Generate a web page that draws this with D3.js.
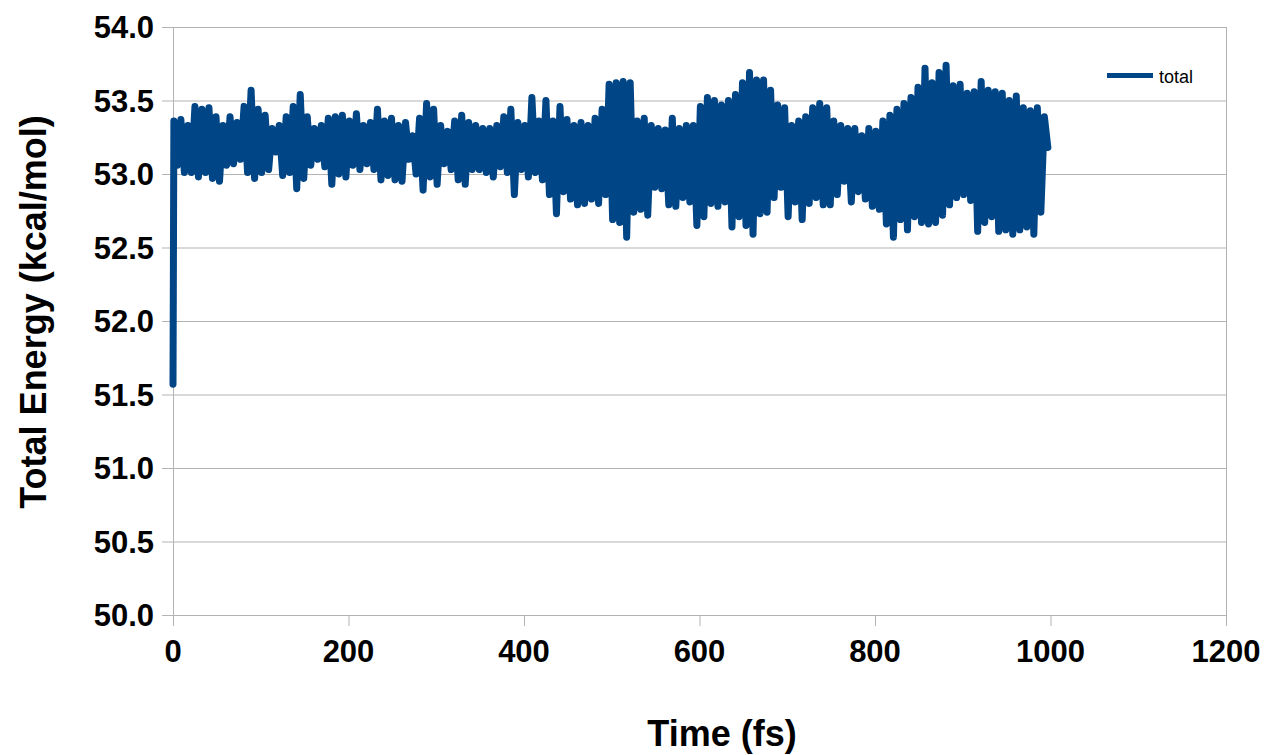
<!DOCTYPE html>
<html lang="en">
	<head>
		<meta charset="utf-8">
		<script src="https://d3js.org/d3.v7.min.js"></script>
		<title>Total Energy</title>
		<style>
			body { margin:0; background:white; }
			text { font-family:"Liberation Sans", Arial, sans-serif; fill:black; }
			.grid line { stroke:#b3b3b3; stroke-width:1px; }
			.tick-label { font-size:31px; font-weight:bold; }
			.axis-title { font-size:36px; font-weight:bold; }
			.energy { fill:none; stroke:#004586; stroke-width:7px; stroke-linejoin:round; stroke-linecap:round; }
		</style>
	</head>
	<body>
		<script type="text/javascript">

		// total energy: first sample at 0 fs, then every 4 fs starting at 1 fs
		var timeStep = 4;
		var energy = [51.57,
			53.36,53.06, 53.37,53.01, 53.33,53.01, 53.46,52.98, 53.44,53.01, 53.45,52.97, 53.39,52.95, 53.33,53.06, 53.39,53.07, 53.35,53.10,
			53.46,53.01, 53.57,52.97, 53.44,53.01, 53.40,53.03, 53.31,53.15, 53.33,52.99, 53.39,53.01, 53.46,52.90, 53.54,52.97, 53.39,53.06,
			53.31,53.10, 53.33,53.05, 53.38,52.93, 53.39,53.00, 53.40,52.98, 53.36,53.06, 53.41,53.03, 53.33,53.07, 53.35,53.03, 53.44,52.96,
			53.36,52.99, 53.38,52.96, 53.33,52.95, 53.35,53.10, 53.26,53.00, 53.38,52.89, 53.48,52.98, 53.44,52.93, 53.33,53.07, 53.29,53.03,
			53.36,52.96, 53.40,52.93, 53.35,53.03, 53.33,53.03, 53.31,53.01, 53.31,52.98, 53.33,53.05, 53.39,53.01, 53.44,52.86, 53.35,53.03,
			53.33,52.98, 53.52,53.01, 53.36,52.96, 53.50,52.86, 53.36,52.73, 53.46,52.88, 53.37,52.83, 53.33,52.79, 53.35,52.80, 53.33,52.83,
			53.38,52.80, 53.44,52.86, 53.61,52.69, 53.62,52.67, 53.63,52.57, 53.62,52.74, 53.36,52.76, 53.38,52.72, 53.33,52.91, 53.31,52.90,
			53.30,52.79, 53.38,52.78, 53.31,52.84, 53.33,52.81, 53.33,52.65, 53.46,52.71, 53.52,52.80, 53.50,52.78, 53.47,52.81, 53.50,52.64,
			53.54,52.71, 53.62,52.65, 53.69,52.59, 53.64,52.73, 53.64,52.74, 53.57,52.84, 53.47,52.91, 53.45,52.71, 53.33,52.81, 53.36,52.69,
			53.39,52.80, 53.45,52.84, 53.48,52.79, 53.45,52.79, 53.36,52.86, 53.33,52.95, 53.31,52.81, 53.31,52.88, 53.26,52.83, 53.31,52.78,
			53.29,52.76, 53.36,52.66, 53.40,52.57, 53.44,52.69, 53.48,52.62, 53.52,52.71, 53.59,52.67, 53.72,52.66, 53.62,52.67, 53.69,52.72,
			53.74,52.79, 53.60,52.84, 53.61,52.86, 53.55,52.82, 53.56,52.61, 53.63,52.67, 53.57,52.71, 53.56,52.61, 53.55,52.62, 53.50,52.59,
			53.53,52.62, 53.45,52.64, 53.43,52.59, 53.45,52.74, 53.39,53.18];

		var xTicks = [0, 200, 400, 600, 800, 1000, 1200];
		var yTicks = [50.0, 50.5, 51.0, 51.5, 52.0, 52.5, 53.0, 53.5, 54.0];
		var seriesName = "total";

		var width = 1268,
			height = 755;

		var X = d3.scaleLinear().domain([0, 1200]).range([173, 1226]);
		var Y = d3.scaleLinear().domain([50, 54]).range([615, 27]);

		var data = energy.map(function(v, i){
			return {t: i === 0 ? 0 : 1 + (i-1)*timeStep, e: v};
		});
		var line = d3.line().x(function(d){ return X(d.t); }).y(function(d){ return Y(d.e); });

		var svg = d3.select("body").append("svg")
			.attr("width", width)
			.attr("height", height);

		var grid = svg.append("g").attr("class","grid");

		grid.selectAll(".hline").data(yTicks).enter().append("line")
			.attr("x1", X(0) - 11).attr("x2", X(1200))
			.attr("y1", function(d){ return Y(d) + 0.5; })
			.attr("y2", function(d){ return Y(d) + 0.5; });

		// left axis and right border
		grid.append("line").attr("x1", X(0) + 0.5).attr("x2", X(0) + 0.5).attr("y1", Y(54)).attr("y2", Y(50) + 11);
		grid.append("line").attr("x1", X(1200) + 0.5).attr("x2", X(1200) + 0.5).attr("y1", Y(54)).attr("y2", Y(50));

		grid.selectAll(".xtick").data(xTicks.slice(1)).enter().append("line")
			.attr("x1", function(d){ return X(d) + 0.5; })
			.attr("x2", function(d){ return X(d) + 0.5; })
			.attr("y1", Y(50)).attr("y2", Y(50) + 11);

		svg.selectAll(".ylabel").data(yTicks).enter().append("text")
			.attr("class","tick-label")
			.attr("x", 154)
			.attr("y", function(d){ return Y(d); })
			.attr("dy", "0.36em")
			.attr("text-anchor","end")
			.text(function(d){ return d3.format(".1f")(d); });

		svg.selectAll(".xlabel").data(xTicks).enter().append("text")
			.attr("class","tick-label")
			.attr("x", function(d){ return X(d); })
			.attr("y", 662)
			.attr("text-anchor","middle")
			.text(function(d){ return d; });

		svg.append("text").attr("class","axis-title")
			.attr("x", 722).attr("y", 746)
			.attr("text-anchor","middle")
			.text("Time (fs)");

		svg.append("text").attr("class","axis-title")
			.attr("transform","translate(46,312) rotate(-90)")
			.attr("text-anchor","middle")
			.text("Total Energy (kcal/mol)");

		svg.append("path").datum(data)
			.attr("class","energy")
			.attr("d", line);

		// legend
		svg.append("line")
			.attr("x1", 1107).attr("x2", 1153)
			.attr("y1", 75.5).attr("y2", 75.5)
			.attr("stroke", "#004586").attr("stroke-width", 5);
		svg.append("text")
			.attr("x", 1159).attr("y", 83)
			.style("font-size","18px")
			.text(seriesName);

		</script>
	</body>
</html>
